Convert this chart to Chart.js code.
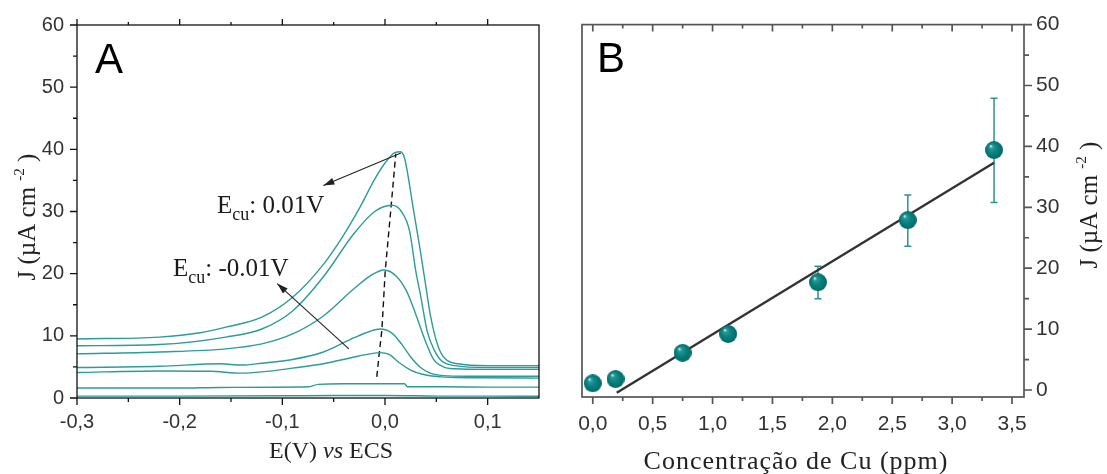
<!DOCTYPE html>
<html>
<head>
<meta charset="utf-8">
<script src="https://cdn.jsdelivr.net/npm/chart.js@4.4.0/dist/chart.umd.min.js"></script>
<style>
  html, body { margin: 0; padding: 0; background: #fff; }
  #wrapA { position: absolute; left: 0; top: 0; width: 560px; height: 474px; }
  #wrapB { position: absolute; left: 560px; top: 0; width: 547px; height: 474px; }
</style>
</head>
<body>
<div id="wrapA"><canvas id="chartA" width="560" height="474"></canvas></div>
<div id="wrapB"><canvas id="chartB" width="547" height="474"></canvas></div>
<script>
// Panel A: voltammograms, J (uA cm-2) against E (V) vs ECS
var c1E = [-0.30, -0.20, -0.10, -0.05, 0.00, 0.03, 0.06, 0.10, 0.15];
var c1J = [0.30, 0.30, 0.35, 0.40, 0.40, 0.35, 0.30, 0.30, 0.27];
var c2E = [-0.30, -0.20, -0.16, -0.075, -0.065, -0.04, 0.00, 0.019, 0.022, 0.06, 0.10, 0.15];
var c2J = [1.6, 1.6, 1.7, 1.8, 2.2, 2.3, 2.3, 2.3, 1.8, 1.8, 1.75, 1.75];
var c3E = [-0.30, -0.22, -0.17, -0.14, -0.12, -0.09, -0.06, -0.03, -0.015, -0.005, 0.004, 0.013, 0.025, 0.04, 0.055, 0.07, 0.10, 0.15];
var c3J = [4.1, 4.35, 4.3, 4.0, 4.2, 4.8, 5.5, 6.6, 7.1, 7.3, 7.0, 5.8, 4.5, 3.7, 3.4, 3.3, 3.25, 3.2];
var c4E = [-0.30, -0.22, -0.16, -0.14, -0.12, -0.09, -0.06, -0.03, -0.015, -0.005, 0.007, 0.016, 0.025, 0.034, 0.044, 0.057, 0.08, 0.15];
var c4J = [4.9, 5.1, 5.5, 5.3, 5.6, 6.2, 7.4, 9.7, 10.7, 11.1, 10.4, 8.7, 6.6, 5.0, 4.0, 3.6, 3.5, 3.5];
var c5E = [-0.30, -0.22, -0.155, -0.12, -0.09, -0.06, -0.03, -0.013, -0.001, 0.011, 0.021, 0.031, 0.039, 0.047, 0.057, 0.068, 0.10, 0.15];
var c5J = [7.1, 7.4, 7.9, 8.7, 10.3, 13.2, 17.6, 19.8, 20.6, 19.6, 17.2, 13.0, 9.3, 6.3, 5.0, 4.7, 4.6, 4.6];
var c6E = [-0.30, -0.22, -0.155, -0.12, -0.09, -0.06, -0.03, -0.01, 0.007, 0.016, 0.024, 0.030, 0.035, 0.041, 0.048, 0.055, 0.068, 0.10, 0.15];
var c6J = [8.4, 8.6, 9.8, 11.1, 14.0, 19.5, 26.5, 30.0, 31.0, 30.0, 26.8, 20.4, 16.2, 10.8, 7.7, 6.0, 5.2, 4.9, 4.9];
var c7E = [-0.30, -0.22, -0.18, -0.155, -0.12, -0.09, -0.06, -0.04, -0.025, -0.01, 0.0, 0.01, 0.015, 0.019, 0.028, 0.034, 0.039, 0.044, 0.049, 0.054, 0.060, 0.071, 0.10, 0.15];
var c7J = [9.5, 9.8, 10.5, 11.4, 13.0, 16.2, 21.5, 26.3, 30.5, 35.2, 37.8, 39.5, 39.6, 38.6, 30.0, 24.1, 18.8, 13.5, 9.8, 7.4, 6.1, 5.5, 5.2, 5.2];
// dashed line through the peak maxima
var peakE = [-0.008, -0.0056, -0.003, 0.0002, 0.006, 0.0105];
var peakJ = [3.4, 7.2, 11.0, 20.4, 30.9, 39.3];

var xTicksA = [-0.3, -0.2, -0.1, 0.0, 0.1];
var xLabelsA = ['-0,3', '-0,2', '-0,1', '0,0', '0,1'];
var xMinorA = [-0.25, -0.15, -0.05, 0.05];
var yTicksA = [0, 10, 20, 30, 40, 50, 60];
var yMinorA = [5, 15, 25, 35, 45, 55];

// Panel B: peak current against Cu concentration (ppm)
var conc = [0.0, 0.19, 0.75, 1.13, 1.88, 2.63, 3.35];
var jMean = [1.1, 1.8, 6.1, 9.2, 17.7, 27.9, 39.4];
var jLow = [null, null, null, null, 15.0, 23.6, 30.8];
var jHigh = [null, null, null, null, 20.3, 32.0, 47.9];
var fitConc = [0.2, 3.35];
var fitJ = [-0.45, 37.3];

var xTicksB = [0, 0.5, 1.0, 1.5, 2.0, 2.5, 3.0, 3.5];
var xLabelsB = ['0,0', '0,5', '1,0', '1,5', '2,0', '2,5', '3,0', '3,5'];
var xMinorB = [0.25, 0.75, 1.25, 1.75, 2.25, 2.75, 3.25];
var yTicksB = [0, 10, 20, 30, 40, 50, 60];
var yMinorB = [5, 15, 25, 35, 45, 55];

var teal = '#2b9c9a';
var serif = '"Liberation Serif", "Times New Roman", serif';
var sans = '"Liberation Sans", Arial, sans-serif';

function pairs(xs, ys) {
    return xs.map(function (x, i) { return { x: x, y: ys[i] }; });
}

function curve(E, J) {
    return {
        data: pairs(E, J),
        borderColor: teal,
        borderWidth: 1.4,
        pointRadius: 0,
        cubicInterpolationMode: 'monotone',
        fill: false
    };
}

// draws a run of text pieces [text, font, dy] starting at x (or centred on it)
function drawRich(ctx, parts, x, y, centred) {
    var total = 0;
    parts.forEach(function (p) { ctx.font = p[1]; total += ctx.measureText(p[0]).width; });
    var cx = centred ? x - total / 2 : x;
    parts.forEach(function (p) {
        ctx.font = p[1];
        ctx.fillText(p[0], cx, y + (p[2] || 0));
        cx += ctx.measureText(p[0]).width;
    });
}

function arrow(ctx, x0, y0, x1, y1) {
    ctx.beginPath();
    ctx.moveTo(x0, y0);
    ctx.lineTo(x1, y1);
    ctx.stroke();
    var a = Math.atan2(y1 - y0, x1 - x0), L = 11, w = 3.5;
    ctx.beginPath();
    ctx.moveTo(x1, y1);
    ctx.lineTo(x1 - L * Math.cos(a) + w * Math.sin(a), y1 - L * Math.sin(a) - w * Math.cos(a));
    ctx.lineTo(x1 - L * Math.cos(a) - w * Math.sin(a), y1 - L * Math.sin(a) + w * Math.cos(a));
    ctx.closePath();
    ctx.fill();
}

function jTitle(size) {
    return [
        ['J (\u00b5A cm ', size + 'px ' + serif, 0],
        ['-2', Math.round(size * 0.6) + 'px ' + serif, -size * 0.45],
        [' )', size + 'px ' + serif, 0]
    ];
}

function tickScale(ticks, labels, min, max, size, pad, extra) {
    var s = {
        type: 'linear',
        min: min,
        max: max,
        grid: { display: false, drawTicks: false },
        border: { display: false },
        afterBuildTicks: function (sc) { sc.ticks = ticks.map(function (v) { return { value: v }; }); },
        ticks: {
            padding: pad,
            color: '#333',
            autoSkip: false,
            maxRotation: 0,
            font: { family: sans, size: size },
            callback: function (v, i) { return labels ? labels[i] : String(ticks[i]); }
        }
    };
    for (var k in extra) s[k] = extra[k];
    return s;
}

var panelA = {
    id: 'panelA',
    afterDraw: function (chart) {
        var ctx = chart.ctx, a = chart.chartArea, sx = chart.scales.x, sy = chart.scales.y;
        ctx.save();
        ctx.strokeStyle = '#111';
        ctx.lineWidth = 1.3;
        ctx.strokeRect(a.left, a.top, a.right - a.left, a.bottom - a.top);
        ctx.beginPath();
        xTicksA.forEach(function (v) {
            var x = sx.getPixelForValue(v);
            ctx.moveTo(x, a.bottom); ctx.lineTo(x, a.bottom + 7);
            ctx.moveTo(x, a.top); ctx.lineTo(x, a.top - 6);
        });
        xMinorA.forEach(function (v) {
            var x = sx.getPixelForValue(v);
            ctx.moveTo(x, a.bottom); ctx.lineTo(x, a.bottom + 4);
            ctx.moveTo(x, a.top); ctx.lineTo(x, a.top - 3);
        });
        yTicksA.forEach(function (v) {
            var y = sy.getPixelForValue(v);
            ctx.moveTo(a.left, y); ctx.lineTo(a.left - 7, y);
        });
        yMinorA.forEach(function (v) {
            var y = sy.getPixelForValue(v);
            ctx.moveTo(a.left, y); ctx.lineTo(a.left - 4, y);
        });
        ctx.stroke();

        // arrows pointing at the labels
        ctx.strokeStyle = '#222';
        ctx.fillStyle = '#222';
        ctx.lineWidth = 1.1;
        arrow(ctx, sx.getPixelForValue(0.0155), sy.getPixelForValue(39.4), sx.getPixelForValue(-0.060), sy.getPixelForValue(34.2));
        arrow(ctx, sx.getPixelForValue(-0.0352), sy.getPixelForValue(7.9), sx.getPixelForValue(-0.105), sy.getPixelForValue(18.4));

        ctx.fillStyle = '#1a1a1a';
        ctx.textBaseline = 'alphabetic';
        ctx.textAlign = 'left';
        var big = '25px ' + serif, sub = '18px ' + serif;
        drawRich(ctx, [['E', big, 0], ['cu', sub, 7], [': 0.01V', big, 0]],
            sx.getPixelForValue(-0.1636), sy.getPixelForValue(29.7));
        drawRich(ctx, [['E', big, 0], ['cu', sub, 7], [': -0.01V', big, 0]],
            sx.getPixelForValue(-0.2065), sy.getPixelForValue(19.6));

        ctx.fillStyle = '#000';
        ctx.font = '42px ' + sans;
        ctx.fillText('A', 95, 73);

        ctx.fillStyle = '#222';
        drawRich(ctx, [['E(V) ', '24px ' + serif, 0], ['vs', 'italic 24px ' + serif, 0], [' ECS', '24px ' + serif, 0]], 331, 458, true);

        ctx.translate(35, 217);
        ctx.rotate(-Math.PI / 2);
        drawRich(ctx, jTitle(25), 0, 0, true);
        ctx.restore();
    }
};

var datasetsA = [c1E, c2E, c3E, c4E, c5E, c6E, c7E].map(function (E, i) {
    return curve(E, [c1J, c2J, c3J, c4J, c5J, c6J, c7J][i]);
});
datasetsA.push({
    data: pairs(peakE, peakJ),
    borderColor: '#111',
    borderWidth: 1.4,
    borderDash: [6, 4],
    pointRadius: 0,
    fill: false
});

new Chart(document.getElementById('chartA'), {
    type: 'line',
    data: { datasets: datasetsA },
    options: {
        responsive: false,
        animation: false,
        events: [],
        layout: { padding: { top: 22, right: 21, left: 0, bottom: 0 } },
        plugins: { legend: { display: false }, tooltip: { enabled: false } },
        scales: {
            x: tickScale(xTicksA, xLabelsA, -0.3, 0.15, 20, 12, {
                afterFit: function (s) { s.height = 76; }
            }),
            y: tickScale(yTicksA, null, 0, 60, 20, 13, {
                afterFit: function (s) { s.width = 77; }
            })
        }
    },
    plugins: [panelA]
});

// shaded ball used as point marker
function sphere(r) {
    var c = document.createElement('canvas');
    c.width = c.height = 2 * r;
    var g = c.getContext('2d');
    var grad = g.createRadialGradient(r * 0.62, r * 0.55, 0.3, r, r, r);
    grad.addColorStop(0, '#d6f2f0');
    grad.addColorStop(0.18, '#2a9896');
    grad.addColorStop(0.55, '#07817f');
    grad.addColorStop(1, '#006a68');
    g.fillStyle = grad;
    g.beginPath();
    g.arc(r, r, r, 0, Math.PI * 2);
    g.fill();
    return c;
}

var panelB = {
    id: 'panelB',
    beforeDatasetsDraw: function (chart) {
        var ctx = chart.ctx, sx = chart.scales.x, sy = chart.scales.y;
        ctx.save();
        ctx.strokeStyle = '#2a9290';
        ctx.lineWidth = 1.5;
        ctx.beginPath();
        conc.forEach(function (c, i) {
            if (jLow[i] === null) return;
            var x = sx.getPixelForValue(c), y0 = sy.getPixelForValue(jLow[i]), y1 = sy.getPixelForValue(jHigh[i]);
            ctx.moveTo(x, y0); ctx.lineTo(x, y1);
            ctx.moveTo(x - 3.5, y0); ctx.lineTo(x + 3.5, y0);
            ctx.moveTo(x - 3.5, y1); ctx.lineTo(x + 3.5, y1);
        });
        ctx.stroke();
        ctx.restore();
    },
    afterDraw: function (chart) {
        var ctx = chart.ctx, a = chart.chartArea, sx = chart.scales.x, sy = chart.scales.y;
        ctx.save();
        ctx.strokeStyle = '#555';
        ctx.lineWidth = 1.7;
        ctx.strokeRect(a.left, a.top, a.right - a.left, a.bottom - a.top);
        ctx.beginPath();
        xTicksB.forEach(function (v) {
            var x = sx.getPixelForValue(v);
            ctx.moveTo(x, a.bottom); ctx.lineTo(x, a.bottom + 7);
            ctx.moveTo(x, a.top); ctx.lineTo(x, a.top + 7);
        });
        xMinorB.forEach(function (v) {
            var x = sx.getPixelForValue(v);
            ctx.moveTo(x, a.bottom); ctx.lineTo(x, a.bottom + 4);
            ctx.moveTo(x, a.top); ctx.lineTo(x, a.top + 4);
        });
        yTicksB.forEach(function (v) {
            var y = sy.getPixelForValue(v);
            ctx.moveTo(a.right, y); ctx.lineTo(a.right + 8, y);
        });
        yMinorB.forEach(function (v) {
            var y = sy.getPixelForValue(v);
            ctx.moveTo(a.right, y); ctx.lineTo(a.right + 5, y);
        });
        ctx.stroke();

        ctx.fillStyle = '#000';
        ctx.textBaseline = 'alphabetic';
        ctx.textAlign = 'left';
        ctx.font = '42px ' + sans;
        ctx.fillText('B', 37, 72);

        ctx.fillStyle = '#222';
        ctx.font = '26px ' + serif;
        ctx.letterSpacing = '1px';
        drawRich(ctx, [['Concentração de Cu (ppm)', '26px ' + serif, 0]], 236, 469, true);
        ctx.letterSpacing = '0px';

        ctx.translate(537, 205);
        ctx.rotate(-Math.PI / 2);
        drawRich(ctx, jTitle(25), 0, 0, true);
        ctx.restore();
    }
};

new Chart(document.getElementById('chartB'), {
    type: 'scatter',
    data: {
        datasets: [
            {
                data: pairs(conc, jMean),
                pointStyle: sphere(9),
                pointRadius: 9,
                order: 0
            },
            {
                type: 'line',
                data: pairs(fitConc, fitJ),
                borderColor: '#333',
                borderWidth: 2.4,
                pointRadius: 0,
                fill: false,
                order: 1
            }
        ]
    },
    options: {
        responsive: false,
        animation: false,
        events: [],
        layout: { padding: { top: 22, right: 0, left: 22, bottom: 0 } },
        plugins: { legend: { display: false }, tooltip: { enabled: false } },
        scales: {
            x: tickScale(xTicksB, xLabelsB, -0.09, 3.6, 21, 15, {
                afterFit: function (s) { s.height = 77; }
            }),
            y: tickScale(yTicksB, null, -1.15, 60, 21, 12, {
                position: 'right',
                afterFit: function (s) { s.width = 83; }
            })
        }
    },
    plugins: [panelB]
});
</script>
</body>
</html>
